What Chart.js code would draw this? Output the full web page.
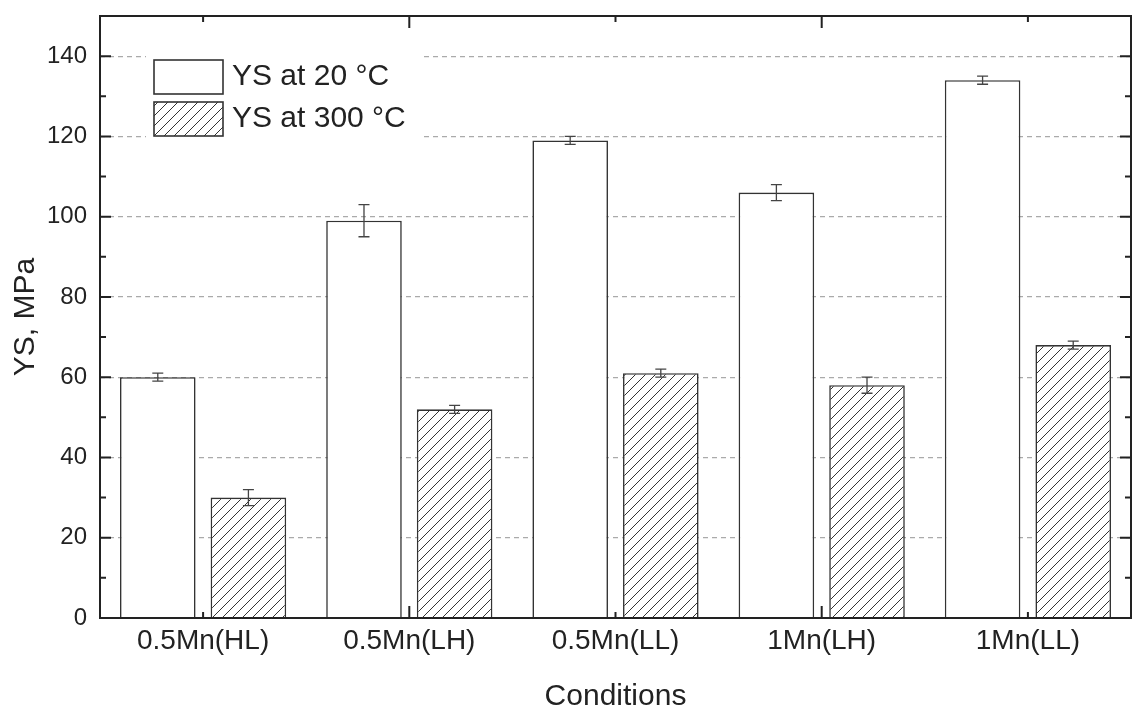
<!DOCTYPE html>
<html lang="en">

<head>
  <meta charset="UTF-8">
  <title>YS by condition</title>
  <script src="https://cdn.jsdelivr.net/npm/chart.js"></script>
  <style>
    body {
      margin: 0;
      background: #fff;
    }

    #chart {
      display: block;
    }
  </style>
</head>

<body>
  <canvas id="chart" width="1133" height="711"></canvas>

  <script>
    // data
    const categories = ['0.5Mn(HL)', '0.5Mn(LH)', '0.5Mn(LL)', '1Mn(LH)', '1Mn(LL)'];
    const ys20 = [60, 99, 119, 106, 134];
    const ys20Err = [1, 4, 1, 2, 1];
    const ys300 = [30, 52, 61, 58, 68];
    const ys300Err = [2, 1, 1, 2, 1];
    const yMajorTicks = [0, 20, 40, 60, 80, 100, 120, 140];
    const yMinorTicks = [10, 30, 50, 70, 90, 110, 130];
    const seriesLabels = ['YS at 20 °C', 'YS at 300 °C'];

    const FONT = "'Liberation Sans', Arial, Helvetica, sans-serif";
    const INK = '#222';

    // diagonal hatch for the 300 °C bars
    function makeHatch() {
      const s = 10;
      const c = document.createElement('canvas');
      c.width = s;
      c.height = s;
      const g = c.getContext('2d');
      g.fillStyle = '#fff';
      g.fillRect(0, 0, s, s);
      g.strokeStyle = '#333';
      g.lineWidth = 1;
      g.beginPath();
      g.moveTo(0, s);
      g.lineTo(s, 0);
      g.moveTo(-1, 1);
      g.lineTo(1, -1);
      g.moveTo(s - 1, s + 1);
      g.lineTo(s + 1, s - 1);
      g.stroke();
      return g.createPattern(c, 'repeat');
    }

    const ctx = document.getElementById('chart').getContext('2d');
    const hatch = makeHatch();

    // frame, inward ticks, error bars and the legend box
    const overlay = {
      id: 'overlay',
      afterDatasetsDraw(chart) {
        const c = chart.ctx;
        const a = chart.chartArea;
        const x = chart.scales.x;
        const y = chart.scales.y;
        c.save();

        // error bars
        const errs = [ys20Err, ys300Err];
        c.strokeStyle = '#444';
        c.lineWidth = 1.3;
        chart.data.datasets.forEach((ds, di) => {
          chart.getDatasetMeta(di).data.forEach((bar, i) => {
            const v = ds.data[i];
            const t = y.getPixelForValue(v + errs[di][i]);
            const b = y.getPixelForValue(v - errs[di][i]);
            c.beginPath();
            c.moveTo(bar.x, t);
            c.lineTo(bar.x, b);
            c.moveTo(bar.x - 5.5, t);
            c.lineTo(bar.x + 5.5, t);
            c.moveTo(bar.x - 5.5, b);
            c.lineTo(bar.x + 5.5, b);
            c.stroke();
          });
        });

        // frame
        c.strokeStyle = INK;
        c.lineWidth = 2;
        c.strokeRect(a.left, a.top, a.right - a.left, a.bottom - a.top);

        // y ticks, both sides, pointing in
        c.beginPath();
        yMajorTicks.forEach(v => {
          const p = y.getPixelForValue(v);
          c.moveTo(a.left, p);
          c.lineTo(a.left + 11, p);
          c.moveTo(a.right, p);
          c.lineTo(a.right - 11, p);
        });
        yMinorTicks.forEach(v => {
          const p = y.getPixelForValue(v);
          c.moveTo(a.left, p);
          c.lineTo(a.left + 6, p);
          c.moveTo(a.right, p);
          c.lineTo(a.right - 6, p);
        });
        // x ticks top and bottom
        categories.forEach((cat, i) => {
          const p = x.getPixelForValue(i);
          const len = i % 2 ? 12 : 6;
          c.moveTo(p, a.bottom);
          c.lineTo(p, a.bottom - len);
          c.moveTo(p, a.top);
          c.lineTo(p, a.top + len);
        });
        c.stroke();

        // legend
        c.fillStyle = '#fff';
        c.fillRect(146, 50, 276, 92);
        const boxes = [{ top: 60, fill: '#fff' }, { top: 102, fill: hatch }];
        c.lineWidth = 1.6;
        c.strokeStyle = '#333';
        c.font = '30px ' + FONT;
        c.textBaseline = 'middle';
        c.textAlign = 'left';
        boxes.forEach((b, i) => {
          c.fillStyle = b.fill;
          c.fillRect(154, b.top, 69, 34);
          c.strokeRect(154, b.top, 69, 34);
          c.fillStyle = INK;
          c.fillText(seriesLabels[i], 232, b.top + 17);
        });

        c.restore();
      }
    };

    new Chart(ctx, {
      type: 'bar',
      data: {
        labels: categories,
        datasets: [{
          label: seriesLabels[0],
          data: ys20,
          backgroundColor: '#fff',
          borderColor: '#333',
          borderWidth: 1.6,
          barPercentage: 0.834,
          categoryPercentage: 0.879
        }, {
          label: seriesLabels[1],
          data: ys300,
          backgroundColor: hatch,
          borderColor: '#333',
          borderWidth: 1.6,
          barPercentage: 0.834,
          categoryPercentage: 0.879
        }]
      },
      options: {
        responsive: false,
        animation: false,
        devicePixelRatio: 1,
        layout: {
          padding: { top: 16, right: 2, left: 0, bottom: 0 }
        },
        plugins: {
          legend: { display: false },
          tooltip: { enabled: false }
        },
        scales: {
          x: {
            grid: { display: false },
            border: { display: false },
            ticks: {
              font: { family: FONT, size: 28 },
              color: INK,
              padding: -2,
              maxRotation: 0,
              autoSkip: false
            },
            title: {
              display: true,
              text: 'Conditions',
              font: { family: FONT, size: 30 },
              color: INK,
              padding: { top: 0, bottom: -4 }
            },
            afterFit: s => {
              s.height = 93;
              s.paddingLeft = 0;
              s.paddingRight = 0;
            }
          },
          y: {
            min: 0,
            max: 150,
            afterBuildTicks: s => { s.ticks = yMajorTicks.map(v => ({ value: v })); },
            grid: {
              drawTicks: false,
              color: c => c.tick && c.tick.value === 0 ? 'rgba(0,0,0,0)' : '#aaa',
              lineWidth: 1.2
            },
            border: { display: false, dash: [5, 4] },
            ticks: {
              font: { family: FONT, size: 24 },
              color: INK,
              padding: 13
            },
            title: {
              display: true,
              text: 'YS, MPa',
              font: { family: FONT, size: 30 },
              color: INK,
              padding: { top: 8, bottom: 0 }
            },
            afterFit: s => {
              s.width = 100;
              s.paddingTop = 0;
              s.paddingBottom = 0;
            }
          }
        }
      },
      plugins: [overlay]
    });
  </script>
</body>

</html>
